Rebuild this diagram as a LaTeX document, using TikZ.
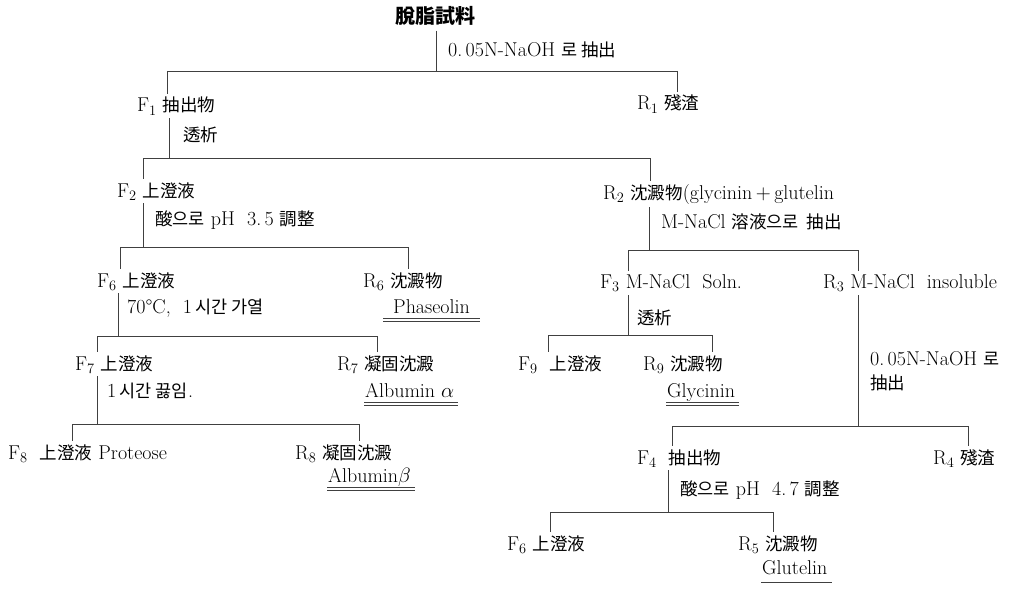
\documentclass[tikz,border=0pt]{standalone}
\usepackage{fontspec}
\newfontfamily\krfont{Noto Sans CJK KR}
\usetikzlibrary{calc}
\newcommand\KR[1]{{\krfont\fontsize{17.5}{22}\selectfont #1}}
\begin{document}
\begin{tikzpicture}[x=1pt,y=-1pt,
  lab/.style={inner sep=0pt, anchor=base west, font=\fontsize{20}{24}\selectfont},
  ln/.style={line width=0.8pt, draw=black!75},
  ul/.style={line width=0.7pt, draw=black!75}]
\useasboundingbox (0,0) rectangle (1030,591);

% ---------- text nodes ----------
\node[inner sep=0pt, font=\krfont\bfseries\fontsize{20}{24}\selectfont] (title) at (435,16) {脫脂試料};
\node[lab] (op1) at (448,57) {0.\,05N-NaOH\ \KR{로\ 抽出}};
\node[lab] (F1) at (137,112) {F$_1$\ \KR{抽出物}};
\node[lab] (R1) at (637,110) {R$_1$\ \KR{殘渣}};
\node[lab] (op2) at (183,142) {\KR{透析}};
\node[lab] (F2) at (117,197) {F$_2$\ \KR{上澄液}};
\node[lab] (R2) at (603,199) {R$_2$\ \KR{沈澱物}(glycinin$\,+\,$glutelin};
\node[lab] (op3) at (155,225) {\KR{酸으로}\ pH\ \ 3.\,5\ \KR{調整}};
\node[lab] (op4) at (661,228) {M-NaCl\ \KR{溶液으로\ \ 抽出}};
\node[lab] (F6) at (97,287) {F$_6$\ \KR{上澄液}};
\node[lab] (R6) at (363,287) {R$_6$\ \KR{沈澱物}};
\node[lab] (F3) at (600,288) {F$_3$\ M-NaCl\ \ Soln.};
\node[lab] (R3) at (823,288) {R$_3$\ M-NaCl\ \ insoluble};
\node[lab] (op5) at (127,313) {70°C,\ \ 1\,\KR{시간\ 가열}};
\node[lab] (P6) at (393,313) {Phaseolin};
\node[lab] (op6) at (637,324) {\KR{透析}};
\node[lab] (op8) at (870,365) {0.\,05N-NaOH\ \KR{로}};
\node[lab] (op8b) at (870,389) {\KR{抽出}};
\node[lab] (F7) at (75,370) {F$_7$\ \KR{上澄液}};
\node[lab] (R7) at (337,370) {R$_7$\ \KR{凝固沈澱}};
\node[lab] (F9) at (518,370) {F$_9$\ \ \KR{上澄液}};
\node[lab] (R9) at (643,370) {R$_9$\ \KR{沈澱物}};
\node[lab] (op7) at (107,397) {1\,\KR{시간\ 끓임}.};
\node[lab] (Aa) at (365,397) {Albumin\ $\alpha$};
\node[lab] (Gy) at (667,397) {Glycinin};
\node[lab] (F8) at (8,459) {F$_8$\ \ \KR{上澄液}\ Proteose};
\node[lab] (R8) at (295,459) {R$_8$\ \KR{凝固沈澱}};
\node[lab] (F4) at (637,464) {F$_4$\ \ \KR{抽出物}};
\node[lab] (R4) at (933,464) {R$_4$\ \KR{殘渣}};
\node[lab] (Ab) at (328,482) {Albumin$\beta$};
\node[lab] (op9) at (680,495) {\KR{酸으로}\ pH\ \ 4.\,7\ \KR{調整}};
\node[lab] (F6b) at (507,550) {F$_6$\ \KR{上澄液}};
\node[lab] (R5) at (738,550) {R$_5$\ \KR{沈澱物}};
\node[lab] (Gl) at (762,574) {Glutelin};

% ---------- bar coordinates ----------
\coordinate (s1) at (436,71);  \coordinate (b1l) at (167,71);  \coordinate (b1r) at (677,71);
\coordinate (s2) at (169,158); \coordinate (b2l) at (143,158); \coordinate (b2r) at (650,158);
\coordinate (s3) at (143,247); \coordinate (b3l) at (120,247); \coordinate (b3r) at (408,247);
\coordinate (s4) at (649,250); \coordinate (b4l) at (628,250); \coordinate (b4r) at (858,250);
\coordinate (s5) at (118,336); \coordinate (b5l) at (97,336);  \coordinate (b5r) at (377,336);
\coordinate (s6) at (628,335); \coordinate (b6l) at (548,335); \coordinate (b6r) at (712,335);
\coordinate (s7) at (97,424);  \coordinate (b7l) at (72,424);  \coordinate (b7r) at (359,424);
\coordinate (s8) at (858,426); \coordinate (b8l) at (672,426); \coordinate (b8r) at (968,426);
\coordinate (s9) at (668,512); \coordinate (b9l) at (550,512); \coordinate (b9r) at (773,512);

% ---------- stems ----------
\draw[ln] ($(s1 |- title.south)+(0,5)$) -- (s1);
\draw[ln] ($(s2 |- F1.south)+(0,3)$) -- (s2);
\draw[ln] ($(s3 |- F2.south)+(0,3)$) -- (s3);
\draw[ln] ($(s4 |- R2.south)+(0,3)$) -- (s4);
\draw[ln] ($(s5 |- F6.south)+(0,3)$) -- (s5);
\draw[ln] ($(s6 |- F3.south)+(0,4)$) -- (s6);
\draw[ln] ($(s7 |- F7.south)+(0,3)$) -- (s7);
\draw[ln] ($(s8 |- R3.south)+(0,4)$) -- (s8);
\draw[ln] ($(s9 |- F4.south)+(0,3)$) -- (s9);

% ---------- bars and drops ----------
\foreach \b/\l/\r in {1/F1/R1, 2/F2/R2, 3/F6/R6, 4/F3/R3, 5/F7/R7, 6/F9/R9, 7/F8/R8, 8/F4/R4, 9/F6b/R5}{
  \draw[ln] (b\b l) -- (b\b r);
  \draw[ln] (b\b l) -- ($(b\b l |- \l.north)+(0,-3)$);
  \draw[ln] (b\b r) -- ($(b\b r |- \r.north)+(0,-3)$);
}

% ---------- underlines ----------
\draw[ul] ($(P6.base west)+(-10,5)$) -- ($(P6.base east)+(10,5)$);
\draw[ul] ($(P6.base west)+(-10,8)$) -- ($(P6.base east)+(10,8)$);
\foreach \n in {Aa,Gy,Ab}{
  \draw[ul] ($(\n.base west)+(-1,5)$) -- ($(\n.base east)+(4,5)$);
  \draw[ul] ($(\n.base west)+(-1,8)$) -- ($(\n.base east)+(4,8)$);
}
\draw[ul] ($(Gl.base west)+(-1,8)$) -- ($(Gl.base east)+(4,8)$);
\end{tikzpicture}
\end{document}
